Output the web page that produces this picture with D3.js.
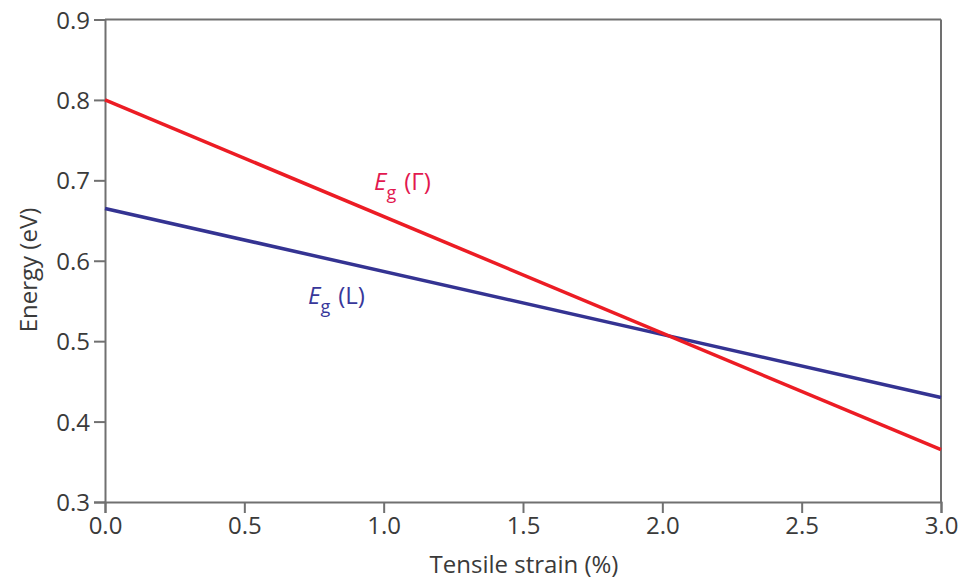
<!DOCTYPE html>
<html><head><meta charset="utf-8">
<script src="https://cdn.jsdelivr.net/npm/d3@7"></script>
<style>body{margin:0;background:#fff}svg{display:block}</style>
</head><body>
<svg id="c" width="963" height="579"></svg>
<script>
const strain = [0.0, 3.0];
const egGamma = [0.800, 0.365];
const egL = [0.665, 0.430];
const xTicks = [0.0, 0.5, 1.0, 1.5, 2.0, 2.5, 3.0];
const yTicks = [0.3, 0.4, 0.5, 0.6, 0.7, 0.8, 0.9];

const svg = d3.select("#c");
const L = 105, R = 941, T = 19.5, B = 502;
const x = d3.scaleLinear().domain([0, 3]).range([L, R]);
const y = d3.scaleLinear().domain([0.3, 0.9]).range([B, T]);
const font = "'Open Sans', sans-serif";
const axisCol = "#707070";

const gx = svg.append("g").attr("transform", `translate(0,${B})`)
  .call(d3.axisBottom(x).tickValues(xTicks).tickFormat(d3.format(".1f")).tickSizeOuter(0).tickSize(11).tickPadding(4));
const gy = svg.append("g").attr("transform", `translate(${L},0)`)
  .call(d3.axisLeft(y).tickValues(yTicks).tickFormat(d3.format(".1f")).tickSizeOuter(0).tickSize(11).tickPadding(4));
[gx, gy].forEach(g => {
  g.selectAll("path,line").attr("stroke", axisCol).attr("stroke-width", 2);
  g.selectAll("text").attr("font-family", font).attr("font-size", 24).attr("fill", "#3a3a3a");
});
gy.selectAll("text").attr("dy", "0.36em");
// top and right frame
svg.append("line").attr("x1", L).attr("x2", R).attr("y1", T).attr("y2", T).attr("stroke", axisCol).attr("stroke-width", 2);
svg.append("line").attr("x1", R).attr("x2", R).attr("y1", T).attr("y2", B).attr("stroke", axisCol).attr("stroke-width", 2);

const line = d3.line().x(d => x(d[0])).y(d => y(d[1]));
svg.append("path").datum(strain.map((s, i) => [s, egL[i]])).attr("d", line)
  .attr("fill", "none").attr("stroke", "#343392").attr("stroke-width", 3.5);
svg.append("path").datum(strain.map((s, i) => [s, egGamma[i]])).attr("d", line)
  .attr("fill", "none").attr("stroke", "#ec1c24").attr("stroke-width", 3.5);

function label(px, py, sym, col) {
  const t = svg.append("text").attr("x", px).attr("y", py).attr("font-family", font)
    .attr("font-size", 24).attr("fill", col);
  t.append("tspan").attr("font-style", "italic").text("E");
  t.append("tspan").attr("font-size", 18).attr("dy", 9).text("g");
  t.append("tspan").attr("dy", -9).attr("dx", 8).text(`(${sym})`);
}
label(374, 190, "Γ", "#e2184f");
label(308, 304, "L", "#38379a");

svg.append("text").attr("x", 524).attr("y", 573).attr("text-anchor", "middle")
  .attr("font-family", font).attr("font-size", 24).attr("fill", "#3a3a3a").text("Tensile strain (%)");
svg.append("text").attr("transform", "translate(37,270) rotate(-90)").attr("text-anchor", "middle")
  .attr("font-family", font).attr("font-size", 24).attr("fill", "#3a3a3a").text("Energy (eV)");
</script>
</body></html>
